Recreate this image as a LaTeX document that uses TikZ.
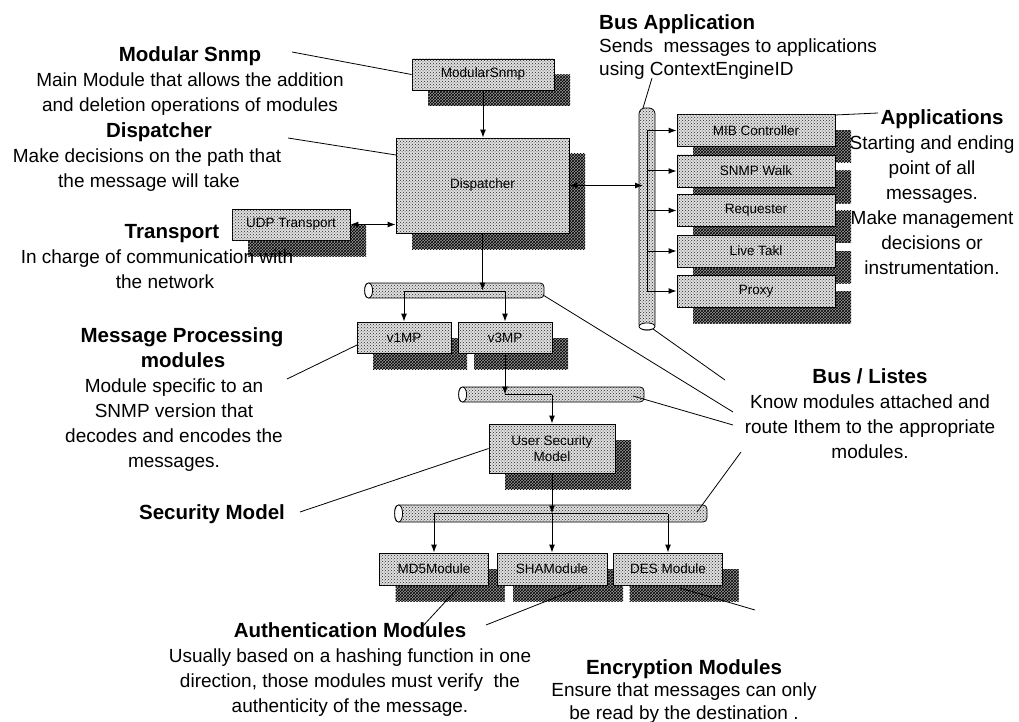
\documentclass[tikz,border=0pt]{standalone}
\usepackage{fontspec}
\setmainfont{Liberation Sans}
\usetikzlibrary{arrows.meta,shadows,patterns}
\newcommand\ttlfont{\fontsize{20.5}{25}\selectfont\bfseries}
\begin{document}
\begin{tikzpicture}[x=1pt,y=-1pt,
  mod/.style={draw=black, line width=0.9pt, fill=black!12,
    postaction={pattern=crosshatch dots, pattern color=black!85},
    general shadow={shadow xshift=16pt, shadow yshift=-16pt, fill=black!40},
    general shadow={shadow xshift=16pt, shadow yshift=-16pt, pattern=crosshatch, pattern color=black},
    font=\fontsize{13.5}{16}\selectfont, inner sep=0pt, align=center},
  tube/.style={draw=black, line width=0.8pt, rounded corners=4pt, fill=black!12,
    postaction={pattern=crosshatch dots, pattern color=black!85}, inner sep=0pt},
  tubeend/.style={draw=black, line width=0.8pt, fill=white},
  wire/.style={line width=0.7pt},
  arr/.style={-{Latex[length=8pt,width=6pt]}, line width=1pt},
  darr/.style={{Latex[length=8pt,width=6pt]}-{Latex[length=8pt,width=6pt]}, line width=1pt},
  lead/.style={line width=0.8pt},
  txt/.style={align=center, inner sep=0pt, font=\fontsize{19}{25}\selectfont},
  txtl/.style={align=left, inner sep=0pt, font=\fontsize{19}{23}\selectfont}
]
\fill[white] (0,0) rectangle (1019,722);
\useasboundingbox (0,0) rectangle (1019,722);

% ---- modules ----
\node[mod, minimum width=142pt, minimum height=31pt] (ms) at (483,74.5) {ModularSnmp};
\node[mod, minimum width=173pt, minimum height=95pt] (disp) at (482.5,185.5) {Dispatcher};
\node[mod, minimum width=118pt, minimum height=31pt] (udp) at (291,224.5) {UDP Transport};

% application bus and applications
\node[tube, rounded corners=6pt, minimum width=16pt, minimum height=222pt] (vbus) at (647,219) {};
\draw[tubeend] ([yshift=4pt]vbus.south) ellipse [x radius=8pt, y radius=3.5pt];
\node[mod, minimum width=158pt, minimum height=32pt] (mib) at (756,130.5) {MIB Controller};
\node[mod, minimum width=158pt, minimum height=32pt] (walk) at (756,171) {SNMP Walk};
\node[mod, minimum width=158pt, minimum height=32pt] (req) at (756,210.5) {Requester};
\node[mod, minimum width=158pt, minimum height=32pt] (live) at (756,251) {Live Takl};
\node[mod, minimum width=158pt, minimum height=32pt] (proxy) at (756,291) {Proxy};

% message processing
\node[tube, minimum width=179pt, minimum height=15pt] (bus1) at (454.5,290.5) {};
\draw[tubeend] ([xshift=4pt]bus1.west) ellipse [x radius=4pt, y radius=7.5pt];
\node[mod, minimum width=94pt, minimum height=31pt] (v1) at (404,337.5) {v1MP};
\node[mod, minimum width=94pt, minimum height=31pt] (v3) at (505,337.5) {v3MP};

% security
\node[tube, minimum width=185pt, minimum height=15pt] (bus2) at (551.5,394.5) {};
\draw[tubeend] ([xshift=4pt]bus2.west) ellipse [x radius=4pt, y radius=7.5pt];
\node[mod, minimum width=126pt, minimum height=49pt] (usm) at (552,448.5) {User Security\\Model};

\node[tube, minimum width=312pt, minimum height=17pt] (bus3) at (551,513.5) {};
\draw[tubeend] ([xshift=4pt]bus3.west) ellipse [x radius=4pt, y radius=8.5pt];
\node[mod, minimum width=109pt, minimum height=32pt] (md5) at (434,569) {MD5Module};
\node[mod, minimum width=110pt, minimum height=32pt] (sha) at (552,569) {SHAModule};
\node[mod, minimum width=109pt, minimum height=32pt] (des) at (668,569) {DES Module};

% ---- routing inside the buses ----
\coordinate (vb-top) at (647,130.5);
\coordinate (vb-bot) at (647,291);
\coordinate (vb-in) at (643,185.5);
\coordinate (b1-l) at (404,291);
\coordinate (b1-r) at (505,291);
\coordinate (b2-l) at (505,394.5);
\coordinate (b2-r) at (552,394.5);
\coordinate (b3-l) at (434,513.5);
\coordinate (b3-r) at (668,513.5);
\coordinate (b3-m) at (552,513.5);

\draw[wire] (vb-top) -- (vb-bot);
\foreach \n in {mib,walk,req,live,proxy}
  \draw[arr] (vb-top |- \n.west) -- (\n.west);
\draw[darr] (disp.east) -- (vb-in);
\draw[arr] (ms.south) -- (ms.south |- disp.north);
\draw[darr] (udp.east) -- (udp.east -| disp.west);
\draw[arr] (disp.south) -- (disp.south |- bus1.center);
\draw[wire] (b1-l) -- (b1-r);
\draw[arr] (b1-l) -- (v1.north);
\draw[arr] (b1-r) -- (v3.north);
\draw[arr] (v3.south) -- (b2-l);
\draw[wire] (b2-l) -- (b2-r);
\draw[arr] (b2-r) -- (usm.north);
\draw[arr] (usm.south) -- (b3-m);
\draw[wire] (b3-l) -- (b3-r);
\draw[arr] (b3-l) -- (md5.north);
\draw[arr] (b3-m) -- (sha.north);
\draw[arr] (b3-r) -- (des.north);

% ---- labels ----
\node[txt] (lmod) at (190,81.5) {{\ttlfont Modular Snmp}\\Main Module that allows the addition\\and deletion operations of modules};
\node[txt] (ldisp) at (147,157) {\hspace*{24pt}{\ttlfont Dispatcher}\\Make decisions on the path that\\\hspace*{4pt}the message will take};
\node[txt] (ltrans) at (157,257) {\hspace*{30pt}{\ttlfont Transport}\\In charge of communication with\\\hspace*{16pt}the network};
\node[txt] (lmp) at (174,400) {\hspace*{16pt}{\ttlfont Message Processing}\\\hspace*{18pt}{\ttlfont modules}\\Module specific to an\\SNMP version that\\decodes and encodes the\\messages.};
\node[txt] (lsec) at (212,514) {\ttlfont Security Model};
\node[txtl, anchor=west] (lbus) at (599,47.5) {{\ttlfont Bus Application}\\Sends\ \ messages to applications\\using ContextEngineID};
\node[txt] (lapp) at (932,192) {\hspace*{20pt}{\ttlfont Applications}\\Starting and ending\\point of all\\messages.\\Make management\\decisions or\\instrumentation.};
\node[txt] (llist) at (870,413.5) {{\ttlfont Bus / Listes}\\Know modules attached and\\route Ithem to the appropriate\\modules.};
\node[txt] (lauth) at (350,670) {{\ttlfont Authentication Modules}\\Usually based on a hashing function in one\\direction, those modules must verify\ \ the\\authenticity of the message.};
\node[txt, font=\fontsize{19}{22.5}\selectfont] (lenc) at (684,691.5) {{\fontsize{20.5}{22.5}\selectfont\bfseries Encryption Modules}\\Ensure that messages can only\\be read by the destination .};

% ---- leader lines ----
\coordinate (p-mod) at (292,52);
\coordinate (p-disp) at (288,138);
\coordinate (q-disp) at (396,155);
\coordinate (p-mp) at (287,379);
\coordinate (q-mp) at (357,345);
\coordinate (p-sec) at (300,512);
\coordinate (p-bus) at (652,78);
\coordinate (q-bus) at (643,108);
\coordinate (q-app) at (835,115);
\coordinate (p-app) at (878,113);
\coordinate (s-b1) at (543,295);
\coordinate (s-vb) at (653,329);
\coordinate (s-b2) at (633,396);
\coordinate (s-b3) at (697,512);
\coordinate (e-b1) at (733,412);
\coordinate (e-vb) at (725,380);
\coordinate (e-b2) at (733,425);
\coordinate (e-b3) at (741,452);
\coordinate (s-md5) at (458,588);
\coordinate (e-md5) at (422,627);
\coordinate (s-sha) at (582,587);
\coordinate (e-sha) at (486,625);
\coordinate (s-des) at (680,588);
\coordinate (e-des) at (755,610);

\draw[lead] (p-mod) -- (ms.west);
\draw[lead] (p-disp) -- (q-disp);
\draw[lead] (p-mp) -- (q-mp);
\draw[lead] (p-sec) -- (usm.west);
\draw[lead] (p-bus) -- (q-bus);
\draw[lead] (q-app) -- (p-app);
\draw[lead] (s-b1) -- (e-b1);
\draw[lead] (s-vb) -- (e-vb);
\draw[lead] (s-b2) -- (e-b2);
\draw[lead] (s-b3) -- (e-b3);
\draw[lead] (s-md5) -- (e-md5);
\draw[lead] (s-sha) -- (e-sha);
\draw[lead] (s-des) -- (e-des);
\end{tikzpicture}
\end{document}
